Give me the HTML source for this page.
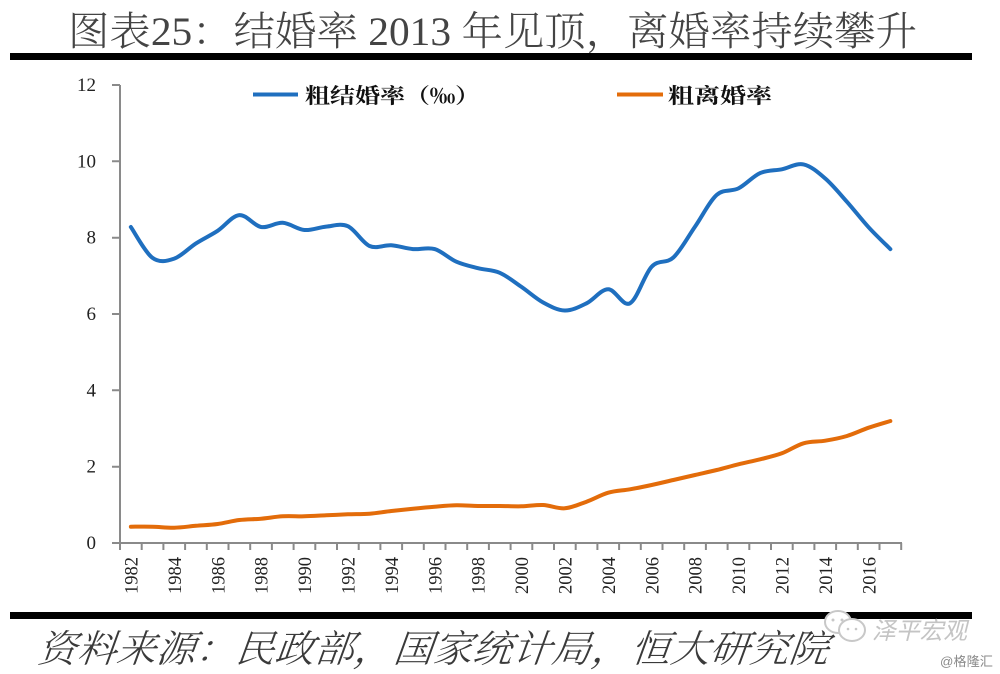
<!DOCTYPE html>
<html>
<head>
<meta charset="utf-8">
<style>
html,body{margin:0;padding:0;background:#fff;}
svg{display:block;}
</style>
</head>
<body>
<svg id="chart" width="1000" height="674" viewBox="0 0 1000 674" xmlns="http://www.w3.org/2000/svg">
<rect x="0" y="0" width="1000" height="674" fill="#fff"/>
<!-- Title -->
<text x="68" y="45" font-family="'Liberation Serif','Noto Serif CJK SC',serif" font-weight="300" font-size="40" fill="#444" textLength="849" lengthAdjust="spacingAndGlyphs">图表25：结婚率 2013 年见顶，离婚率持续攀升</text>
<rect x="10" y="53" width="962" height="7" fill="#000"/>

<!-- Axes -->
<g stroke="#8a8a8a" stroke-width="2" fill="none">
<line x1="120" y1="85" x2="120" y2="544"/>
<line x1="119" y1="543" x2="902" y2="543"/>
<path d="M112 85H120M112 161.3H120M112 237.7H120M112 314H120M112 390.3H120M112 466.7H120M112 543H120"/>
</g>
<line x1="119" y1="546.5" x2="903" y2="546.5" stroke="#8a8a8a" stroke-width="7" stroke-dasharray="2 19.7"/>

<!-- Y labels -->
<g font-family="'Liberation Serif',serif" font-size="19" fill="#222" text-anchor="end">
<text x="96" y="91">12</text>
<text x="96" y="167.3">10</text>
<text x="96" y="243.7">8</text>
<text x="96" y="320">6</text>
<text x="96" y="396.3">4</text>
<text x="96" y="472.7">2</text>
<text x="96" y="549">0</text>
</g>

<!-- X labels -->
<g font-family="'Liberation Serif',serif" font-size="18.5" fill="#222" text-anchor="end">
<text transform="translate(137.5,557) rotate(-90)">1982</text>
<text transform="translate(180.9,557) rotate(-90)">1984</text>
<text transform="translate(224.3,557) rotate(-90)">1986</text>
<text transform="translate(267.7,557) rotate(-90)">1988</text>
<text transform="translate(311.1,557) rotate(-90)">1990</text>
<text transform="translate(354.5,557) rotate(-90)">1992</text>
<text transform="translate(397.9,557) rotate(-90)">1994</text>
<text transform="translate(441.3,557) rotate(-90)">1996</text>
<text transform="translate(484.7,557) rotate(-90)">1998</text>
<text transform="translate(528.1,557) rotate(-90)">2000</text>
<text transform="translate(571.5,557) rotate(-90)">2002</text>
<text transform="translate(614.9,557) rotate(-90)">2004</text>
<text transform="translate(658.3,557) rotate(-90)">2006</text>
<text transform="translate(701.7,557) rotate(-90)">2008</text>
<text transform="translate(745.1,557) rotate(-90)">2010</text>
<text transform="translate(788.5,557) rotate(-90)">2012</text>
<text transform="translate(831.9,557) rotate(-90)">2014</text>
<text transform="translate(875.3,557) rotate(-90)">2016</text>
</g>

<!-- Series -->
<polyline id="blue" fill="none" stroke="#1f6fbf" stroke-width="4" stroke-linejoin="round" stroke-linecap="round"
points="130.85,227.0 152.55,257.9 174.25,258.6 195.95,243.4 217.65,230.8 239.35,215.1 261.05,227.0 282.75,222.8 304.45,230.0 326.15,226.6 347.85,226.2 369.55,246.0 391.25,245.3 412.95,249.1 434.65,249.1 456.35,261.7 478.05,268.2 499.75,272.8 521.45,286.9 543.15,302.5 564.85,310.5 586.55,303.3 608.25,289.2 629.95,303.3 651.65,266.7 673.35,257.5 695.05,226.6 716.75,194.9 738.45,188.4 760.15,173.1 781.85,169.3 803.55,164.4 825.25,178.5 846.95,201.8 868.65,227.3 890.35,249.1"/>
<polyline id="orange" fill="none" stroke="#e36c0a" stroke-width="4" stroke-linejoin="round" stroke-linecap="round"
points="130.85,526.7 152.55,526.7 174.25,527.7 195.95,525.8 217.65,524.0 239.35,520.0 261.05,518.7 282.75,516.3 304.45,516.3 326.15,515.3 347.85,514.3 369.55,513.7 391.25,511.0 412.95,508.7 434.65,506.7 456.35,505.3 478.05,506.0 499.75,506.0 521.45,506.3 543.15,505.0 564.85,508.3 586.55,501.7 608.25,492.7 629.95,489.3 651.65,485.0 673.35,480.0 695.05,475.0 716.75,470.0 738.45,464.3 760.15,459.3 781.85,453.3 803.55,443.3 825.25,440.7 846.95,436.0 868.65,427.7 890.35,421.0"/>

<!-- Legend -->
<line x1="253" y1="94.5" x2="298" y2="94.5" stroke="#1f6fbf" stroke-width="4"/>
<text x="305" y="103" font-family="'Noto Serif CJK SC',serif" font-weight="700" font-size="21" fill="#111" textLength="175" lengthAdjust="spacingAndGlyphs">粗结婚率（‰）</text>
<line x1="617" y1="94.5" x2="663" y2="94.5" stroke="#e36c0a" stroke-width="4"/>
<text x="668" y="103" font-family="'Noto Serif CJK SC',serif" font-weight="700" font-size="21" fill="#111" textLength="104" lengthAdjust="spacingAndGlyphs">粗离婚率</text>

<!-- Bottom -->
<rect x="10" y="612" width="962" height="7" fill="#000"/>
<text x="37" y="662" font-family="'Liberation Serif','Noto Serif CJK SC',serif" font-weight="300" font-style="italic" font-size="38" fill="#3a3a3a" textLength="791" lengthAdjust="spacingAndGlyphs" transform="skewX(-6) translate(69,0)">资料来源：民政部，国家统计局，恒大研究院</text>

<!-- Watermark -->
<g fill="#fff" stroke="#c8c8c8" stroke-width="2">
<ellipse cx="838" cy="622" rx="13" ry="11"/>
<ellipse cx="852" cy="630" rx="13" ry="11"/>
</g>
<g fill="#c8c8c8">
<circle cx="833" cy="620" r="1.5"/><circle cx="842" cy="620" r="1.5"/>
<circle cx="848" cy="629" r="1.3"/><circle cx="856" cy="629" r="1.3"/>
</g>
<text x="872" y="639" font-family="'Noto Sans CJK SC',sans-serif" font-size="24" fill="#c4c4c4" font-style="italic" textLength="95" lengthAdjust="spacingAndGlyphs">泽平宏观</text>
<text x="940" y="666" font-family="'Liberation Sans','Noto Sans CJK SC',sans-serif" font-size="13" fill="#8a8a8a" textLength="53" lengthAdjust="spacingAndGlyphs">@格隆汇</text>
</svg>
<script>
(function(){
  function smooth(id){
    var pl=document.getElementById(id);
    if(!pl) return;
    var pts=pl.getAttribute('points').trim().split(/\s+/).map(function(s){var a=s.split(',');return [parseFloat(a[0]),parseFloat(a[1])];});
    var n=pts.length, d='M'+pts[0][0]+' '+pts[0][1];
    for(var i=0;i<n-1;i++){
      var p0=pts[i>0?i-1:i], p1=pts[i], p2=pts[i+1], p3=pts[i+2<n?i+2:i+1];
      var c1x=p1[0]+(p2[0]-p0[0])/6, c1y=p1[1]+(p2[1]-p0[1])/6;
      var c2x=p2[0]-(p3[0]-p1[0])/6, c2y=p2[1]-(p3[1]-p1[1])/6;
      d+=' C'+c1x.toFixed(2)+' '+c1y.toFixed(2)+' '+c2x.toFixed(2)+' '+c2y.toFixed(2)+' '+p2[0]+' '+p2[1];
    }
    var ns='http://www.w3.org/2000/svg';
    var p=document.createElementNS(ns,'path');
    p.setAttribute('d',d);
    ['fill','stroke','stroke-width','stroke-linejoin','stroke-linecap'].forEach(function(a){p.setAttribute(a,pl.getAttribute(a));});
    pl.parentNode.replaceChild(p,pl);
  }
  smooth('blue');smooth('orange');
})();
</script>
</body>
</html>
